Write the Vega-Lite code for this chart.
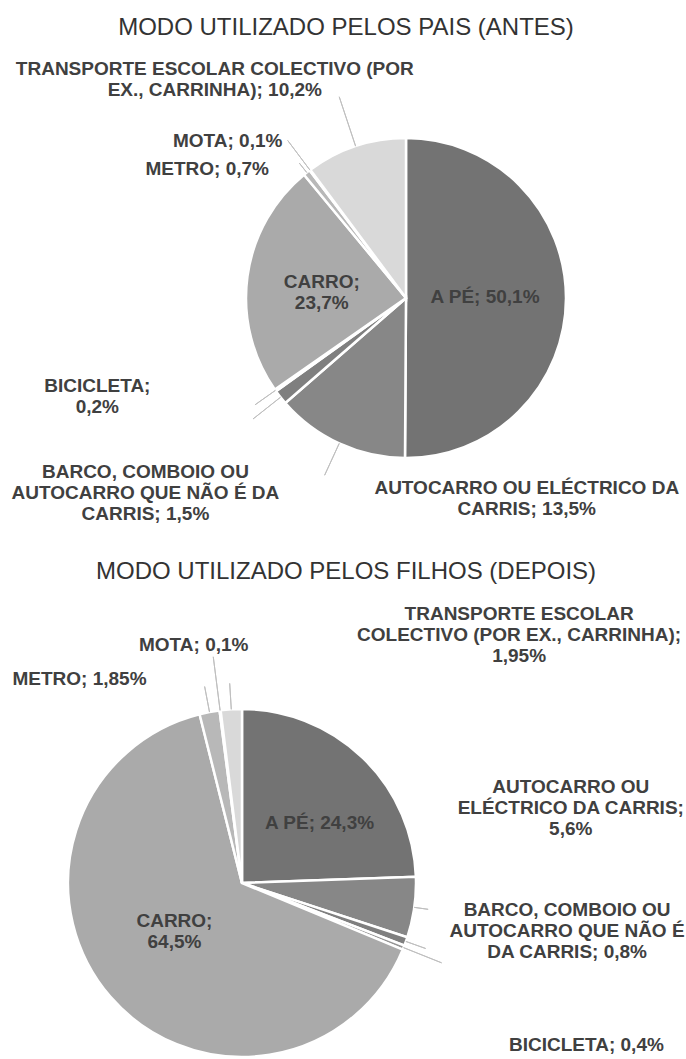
{
  "$schema": "https://vega.github.io/schema/vega-lite/v6.json",
  "background": "white",
  "padding": {"left": 11, "top": 16, "right": 0, "bottom": 0},
  "spacing": 11,
  "config": {
    "view": {"stroke": null},
    "text": {"font": "Liberation Sans", "fontSize": 19, "fontWeight": "bold", "color": "#404040", "lineBreak": "\n", "lineHeight": 21, "baseline": "alphabetic", "align": "center"},
    "title": {"font": "Liberation Sans", "fontSize": 24, "fontWeight": "normal", "color": "#333333", "frame": "group", "anchor": "middle"}
  },
  "resolve": {"scale": {"theta": "independent"}},
  "datasets": {
    "antes": [
      {"modo": "A PÉ", "pct": 50.1, "rotulo": "A PÉ; 50,1%"},
      {"modo": "AUTOCARRO OU ELÉCTRICO DA CARRIS", "pct": 13.5, "rotulo": "AUTOCARRO OU ELÉCTRICO DA\nCARRIS; 13,5%"},
      {"modo": "BARCO, COMBOIO OU AUTOCARRO QUE NÃO É DA CARRIS", "pct": 1.5, "rotulo": "BARCO, COMBOIO OU\nAUTOCARRO QUE NÃO É DA\nCARRIS; 1,5%"},
      {"modo": "BICICLETA", "pct": 0.2, "rotulo": "BICICLETA;\n0,2%"},
      {"modo": "CARRO", "pct": 23.7, "rotulo": "CARRO;\n23,7%"},
      {"modo": "METRO", "pct": 0.7, "rotulo": "METRO; 0,7%"},
      {"modo": "MOTA", "pct": 0.1, "rotulo": "MOTA; 0,1%"},
      {"modo": "TRANSPORTE ESCOLAR COLECTIVO (POR EX., CARRINHA)", "pct": 10.2, "rotulo": "TRANSPORTE ESCOLAR COLECTIVO (POR\nEX., CARRINHA); 10,2%"}
    ],
    "depois": [
      {"modo": "A PÉ", "pct": 24.3, "rotulo": "A PÉ; 24,3%"},
      {"modo": "AUTOCARRO OU ELÉCTRICO DA CARRIS", "pct": 5.6, "rotulo": "AUTOCARRO OU\nELÉCTRICO DA CARRIS;\n5,6%"},
      {"modo": "BARCO, COMBOIO OU AUTOCARRO QUE NÃO É DA CARRIS", "pct": 0.8, "rotulo": "BARCO, COMBOIO OU\nAUTOCARRO QUE NÃO É\nDA CARRIS; 0,8%"},
      {"modo": "BICICLETA", "pct": 0.4, "rotulo": "BICICLETA; 0,4%"},
      {"modo": "CARRO", "pct": 64.5, "rotulo": "CARRO;\n64,5%"},
      {"modo": "METRO", "pct": 1.85, "rotulo": "METRO; 1,85%"},
      {"modo": "MOTA", "pct": 0.1, "rotulo": "MOTA; 0,1%"},
      {"modo": "TRANSPORTE ESCOLAR COLECTIVO (POR EX., CARRINHA)", "pct": 1.95, "rotulo": "TRANSPORTE ESCOLAR\nCOLECTIVO (POR EX., CARRINHA);\n1,95%"}
    ]
  },
  "vconcat": [
    {
      "title": {"text": "MODO UTILIZADO PELOS PAIS (ANTES)", "dx": -60, "offset": 8},
      "width": 556,
      "height": 500,
      "data": {"name": "antes"},
      "layer": [
        {
          "mark": {"type": "arc", "radius": 160, "stroke": "white", "strokeWidth": 2.5},
          "encoding": {
            "theta": {"field": "pct", "type": "quantitative", "stack": true},
            "order": {"field": "modo", "type": "ordinal", "sort": "ascending"},
            "color": {"field": "modo", "type": "nominal", "legend": null,
              "scale": {"domain": ["A PÉ", "AUTOCARRO OU ELÉCTRICO DA CARRIS", "BARCO, COMBOIO OU AUTOCARRO QUE NÃO É DA CARRIS", "BICICLETA", "CARRO", "METRO", "MOTA", "TRANSPORTE ESCOLAR COLECTIVO (POR EX., CARRINHA)"],
                        "range": ["#737373", "#878787", "#7f7f7f", "#959595", "#aaaaaa", "#b8b8b8", "#c6c6c6", "#d9d9d9"]}}
          }
        },
        {
          "mark": {"type": "text", "radius": 79, "dy": 5},
          "encoding": {
            "theta": {"field": "pct", "type": "quantitative", "stack": true},
            "order": {"field": "modo", "type": "ordinal", "sort": "ascending"},
            "detail": {"field": "modo", "type": "nominal"},
            "text": {"condition": {"test": "datum.modo === 'A PÉ'", "field": "rotulo", "type": "nominal"}, "value": ""}
          }
        },
        {
          "mark": {"type": "text", "radius": 85, "dy": 1},
          "encoding": {
            "theta": {"field": "pct", "type": "quantitative", "stack": true},
            "order": {"field": "modo", "type": "ordinal", "sort": "ascending"},
            "detail": {"field": "modo", "type": "nominal"},
            "text": {"condition": {"test": "datum.modo === 'CARRO'", "field": "rotulo", "type": "nominal"}, "value": ""}
          }
        },
        {
          "transform": [
            {"stack": "pct", "groupby": [], "sort": [{"field": "modo", "order": "ascending"}], "as": ["ini", "fim"]},
            {"filter": {"field": "modo", "equal": "TRANSPORTE ESCOLAR COLECTIVO (POR EX., CARRINHA)"}}
          ],
          "layer": [
            {"mark": {"type": "arc", "radius": 212, "radius2": 160, "padAngle": 3, "stroke": "#bfbfbf", "strokeWidth": 1, "fillOpacity": 0},
             "encoding": {"theta": {"field": "ini", "type": "quantitative", "stack": null}, "theta2": {"field": "fim"}}},
            {"mark": {"type": "text", "radius": 293, "dx": -16, "dy": 12, "align": "center"},
             "encoding": {"theta": {"field": "ini", "type": "quantitative", "stack": null}, "text": {"field": "rotulo", "type": "nominal"}}}
          ]
        },
        {
          "transform": [
            {"stack": "pct", "groupby": [], "sort": [{"field": "modo", "order": "ascending"}], "as": ["ini", "fim"]},
            {"filter": {"field": "modo", "equal": "MOTA"}}
          ],
          "layer": [
            {"mark": {"type": "arc", "radius": 197, "radius2": 160, "padAngle": 3, "stroke": "#bfbfbf", "strokeWidth": 1, "fillOpacity": 0},
             "encoding": {"theta": {"field": "ini", "type": "quantitative", "stack": null}, "theta2": {"field": "fim"}}},
            {"mark": {"type": "text", "radius": 195, "dx": -6, "dy": 5, "align": "right"},
             "encoding": {"theta": {"field": "ini", "type": "quantitative", "stack": null}, "text": {"field": "rotulo", "type": "nominal"}}}
          ]
        },
        {
          "transform": [
            {"stack": "pct", "groupby": [], "sort": [{"field": "modo", "order": "ascending"}], "as": ["ini", "fim"]},
            {"filter": {"field": "modo", "equal": "METRO"}}
          ],
          "layer": [
            {"mark": {"type": "arc", "radius": 172, "radius2": 160, "padAngle": 3, "stroke": "#bfbfbf", "strokeWidth": 1, "fillOpacity": 0},
             "encoding": {"theta": {"field": "ini", "type": "quantitative", "stack": null}, "theta2": {"field": "fim"}}},
            {"mark": {"type": "text", "radius": 182, "dx": -21, "dy": 17, "align": "right"},
             "encoding": {"theta": {"field": "ini", "type": "quantitative", "stack": null}, "text": {"field": "rotulo", "type": "nominal"}}}
          ]
        },
        {
          "transform": [
            {"stack": "pct", "groupby": [], "sort": [{"field": "modo", "order": "ascending"}], "as": ["ini", "fim"]},
            {"filter": {"field": "modo", "equal": "BICICLETA"}}
          ],
          "layer": [
            {"mark": {"type": "arc", "radius": 185, "radius2": 160, "padAngle": 3, "stroke": "#bfbfbf", "strokeWidth": 1, "fillOpacity": 0},
             "encoding": {"theta": {"field": "ini", "type": "quantitative", "stack": null}, "theta2": {"field": "fim"}}},
            {"mark": {"type": "text", "radius": 306, "dx": -60, "dy": -84, "align": "center"},
             "encoding": {"theta": {"field": "ini", "type": "quantitative", "stack": null}, "text": {"field": "rotulo", "type": "nominal"}}}
          ]
        },
        {
          "transform": [
            {"stack": "pct", "groupby": [], "sort": [{"field": "modo", "order": "ascending"}], "as": ["ini", "fim"]},
            {"filter": {"field": "modo", "equal": "BARCO, COMBOIO OU AUTOCARRO QUE NÃO É DA CARRIS"}}
          ],
          "layer": [
            {"mark": {"type": "arc", "radius": 195, "radius2": 160, "padAngle": 3, "stroke": "#bfbfbf", "strokeWidth": 1, "fillOpacity": 0},
             "encoding": {"theta": {"field": "ini", "type": "quantitative", "stack": null}, "theta2": {"field": "fim"}}},
            {"mark": {"type": "text", "radius": 315, "dx": -23, "dy": -27, "align": "center"},
             "encoding": {"theta": {"field": "ini", "type": "quantitative", "stack": null}, "text": {"field": "rotulo", "type": "nominal"}}}
          ]
        },
        {
          "transform": [
            {"stack": "pct", "groupby": [], "sort": [{"field": "modo", "order": "ascending"}], "as": ["ini", "fim"]},
            {"filter": {"field": "modo", "equal": "AUTOCARRO OU ELÉCTRICO DA CARRIS"}}
          ],
          "layer": [
            {"mark": {"type": "arc", "radius": 195, "radius2": 160, "padAngle": 3, "stroke": "#bfbfbf", "strokeWidth": 1, "fillOpacity": 0},
             "encoding": {"theta": {"field": "ini", "type": "quantitative", "stack": null}, "theta2": {"field": "fim"}}},
            {"mark": {"type": "text", "radius": 195, "dx": 122, "dy": 1, "align": "center"},
             "encoding": {"theta": {"field": "ini", "type": "quantitative", "stack": null}, "text": {"field": "rotulo", "type": "nominal"}}}
          ]
        }
      ]
    },
    {
      "title": {"text": "MODO UTILIZADO PELOS FILHOS (DEPOIS)", "dx": 104, "offset": 21},
      "width": 228,
      "height": 350,
      "data": {"name": "depois"},
      "layer": [
        {
          "mark": {"type": "arc", "radius": 174, "stroke": "white", "strokeWidth": 2.5},
          "encoding": {
            "theta": {"field": "pct", "type": "quantitative", "stack": true},
            "order": {"field": "modo", "type": "ordinal", "sort": "ascending"},
            "color": {"field": "modo", "type": "nominal", "legend": null,
              "scale": {"domain": ["A PÉ", "AUTOCARRO OU ELÉCTRICO DA CARRIS", "BARCO, COMBOIO OU AUTOCARRO QUE NÃO É DA CARRIS", "BICICLETA", "CARRO", "METRO", "MOTA", "TRANSPORTE ESCOLAR COLECTIVO (POR EX., CARRINHA)"],
                        "range": ["#737373", "#878787", "#7f7f7f", "#959595", "#aaaaaa", "#b8b8b8", "#c6c6c6", "#d9d9d9"]}}
          }
        },
        {
          "mark": {"type": "text", "radius": 93, "dx": 13, "dy": 13},
          "encoding": {
            "theta": {"field": "pct", "type": "quantitative", "stack": true},
            "order": {"field": "modo", "type": "ordinal", "sort": "ascending"},
            "detail": {"field": "modo", "type": "nominal"},
            "text": {"condition": {"test": "datum.modo === 'A PÉ'", "field": "rotulo", "type": "nominal"}, "value": ""}
          }
        },
        {
          "mark": {"type": "text", "radius": 80, "dx": -7, "dy": -8},
          "encoding": {
            "theta": {"field": "pct", "type": "quantitative", "stack": true},
            "order": {"field": "modo", "type": "ordinal", "sort": "ascending"},
            "detail": {"field": "modo", "type": "nominal"},
            "text": {"condition": {"test": "datum.modo === 'CARRO'", "field": "rotulo", "type": "nominal"}, "value": ""}
          }
        },
        {
          "transform": [
            {"stack": "pct", "groupby": [], "sort": [{"field": "modo", "order": "ascending"}], "as": ["ini", "fim"]},
            {"filter": {"field": "modo", "equal": "TRANSPORTE ESCOLAR COLECTIVO (POR EX., CARRINHA)"}}
          ],
          "layer": [
            {"mark": {"type": "arc", "radius": 200, "radius2": 174, "padAngle": 3, "stroke": "#bfbfbf", "strokeWidth": 1, "fillOpacity": 0},
             "encoding": {"theta": {"field": "ini", "type": "quantitative", "stack": null}, "theta2": {"field": "fim"}}},
            {"mark": {"type": "text", "radius": 227, "dx": 305, "dy": -38, "align": "center"},
             "encoding": {"theta": {"field": "ini", "type": "quantitative", "stack": null}, "text": {"field": "rotulo", "type": "nominal"}}}
          ]
        },
        {
          "transform": [
            {"stack": "pct", "groupby": [], "sort": [{"field": "modo", "order": "ascending"}], "as": ["ini", "fim"]},
            {"filter": {"field": "modo", "equal": "MOTA"}}
          ],
          "layer": [
            {"mark": {"type": "arc", "radius": 228, "radius2": 174, "padAngle": 3, "stroke": "#bfbfbf", "strokeWidth": 1, "fillOpacity": 0},
             "encoding": {"theta": {"field": "ini", "type": "quantitative", "stack": null}, "theta2": {"field": "fim"}}},
            {"mark": {"type": "text", "radius": 229, "dx": 36, "dy": -5, "align": "right"},
             "encoding": {"theta": {"field": "ini", "type": "quantitative", "stack": null}, "text": {"field": "rotulo", "type": "nominal"}}}
          ]
        },
        {
          "transform": [
            {"stack": "pct", "groupby": [], "sort": [{"field": "modo", "order": "ascending"}], "as": ["ini", "fim"]},
            {"filter": {"field": "modo", "equal": "METRO"}}
          ],
          "layer": [
            {"mark": {"type": "arc", "radius": 200, "radius2": 174, "padAngle": 3, "stroke": "#bfbfbf", "strokeWidth": 1, "fillOpacity": 0},
             "encoding": {"theta": {"field": "ini", "type": "quantitative", "stack": null}, "theta2": {"field": "fim"}}},
            {"mark": {"type": "text", "radius": 215, "dx": -43, "dy": 11, "align": "right"},
             "encoding": {"theta": {"field": "ini", "type": "quantitative", "stack": null}, "text": {"field": "rotulo", "type": "nominal"}}}
          ]
        },
        {
          "transform": [
            {"stack": "pct", "groupby": [], "sort": [{"field": "modo", "order": "ascending"}], "as": ["ini", "fim"]},
            {"filter": {"field": "modo", "equal": "AUTOCARRO OU ELÉCTRICO DA CARRIS"}}
          ],
          "layer": [
            {"mark": {"type": "arc", "radius": 188, "radius2": 174, "padAngle": 3, "stroke": "#bfbfbf", "strokeWidth": 1, "fillOpacity": 0},
             "encoding": {"theta": {"field": "ini", "type": "quantitative", "stack": null}, "theta2": {"field": "fim"}}},
            {"mark": {"type": "text", "radius": 332, "dx": -3, "dy": -78, "align": "center"},
             "encoding": {"theta": {"field": "ini", "type": "quantitative", "stack": null}, "text": {"field": "rotulo", "type": "nominal"}}}
          ]
        },
        {
          "transform": [
            {"stack": "pct", "groupby": [], "sort": [{"field": "modo", "order": "ascending"}], "as": ["ini", "fim"]},
            {"filter": {"field": "modo", "equal": "BARCO, COMBOIO OU AUTOCARRO QUE NÃO É DA CARRIS"}}
          ],
          "layer": [
            {"mark": {"type": "arc", "radius": 195, "radius2": 174, "padAngle": 3, "stroke": "#bfbfbf", "strokeWidth": 1, "fillOpacity": 0},
             "encoding": {"theta": {"field": "ini", "type": "quantitative", "stack": null}, "theta2": {"field": "fim"}}},
            {"mark": {"type": "text", "radius": 319, "dx": 22, "dy": -67, "align": "center"},
             "encoding": {"theta": {"field": "ini", "type": "quantitative", "stack": null}, "text": {"field": "rotulo", "type": "nominal"}}}
          ]
        },
        {
          "transform": [
            {"stack": "pct", "groupby": [], "sort": [{"field": "modo", "order": "ascending"}], "as": ["ini", "fim"]},
            {"filter": {"field": "modo", "equal": "BICICLETA"}}
          ],
          "layer": [
            {"mark": {"type": "arc", "radius": 215, "radius2": 174, "padAngle": 3, "stroke": "#bfbfbf", "strokeWidth": 1, "fillOpacity": 0},
             "encoding": {"theta": {"field": "ini", "type": "quantitative", "stack": null}, "theta2": {"field": "fim"}}},
            {"mark": {"type": "text", "radius": 382, "dx": -12, "dy": 31, "align": "center"},
             "encoding": {"theta": {"field": "ini", "type": "quantitative", "stack": null}, "text": {"field": "rotulo", "type": "nominal"}}}
          ]
        }
      ]
    }
  ]
}
